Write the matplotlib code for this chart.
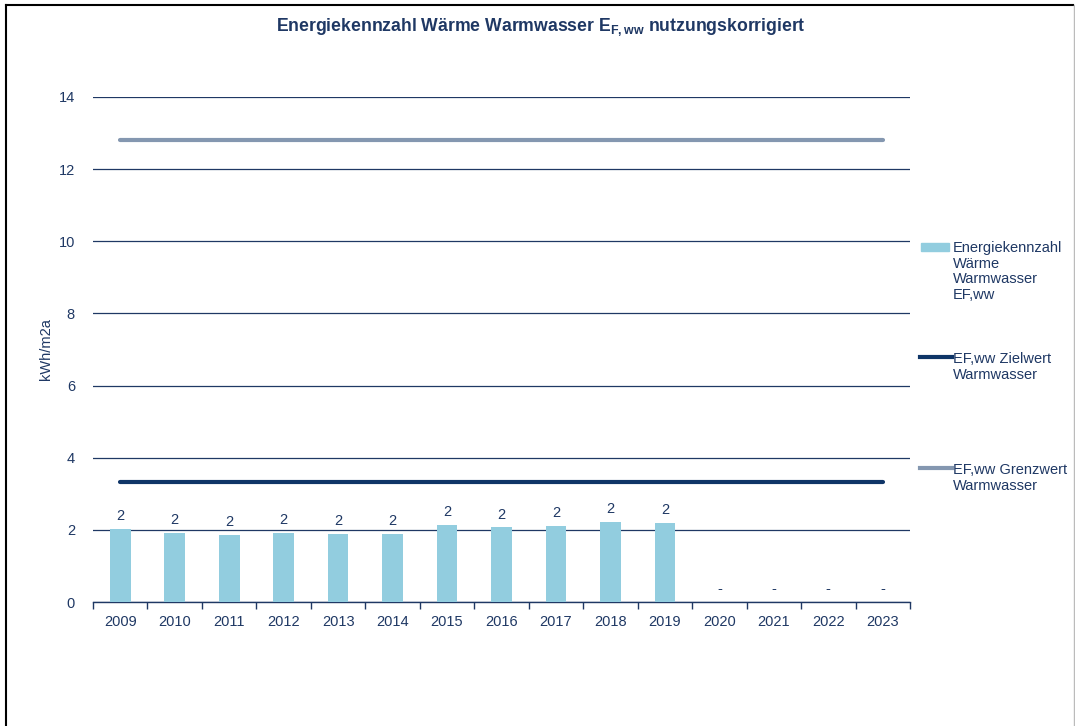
import matplotlib.pyplot as plt
from matplotlib.lines import Line2D
from matplotlib.patches import Rectangle

plt.rcParams['font.family'] = ['Liberation Sans', 'DejaVu Sans']
plt.rcParams['mathtext.fontset'] = 'custom'
plt.rcParams['mathtext.rm'] = 'Liberation Sans'
plt.rcParams['mathtext.bf'] = 'Liberation Sans:bold'

years = ['2009', '2010', '2011', '2012', '2013', '2014', '2015', '2016',
         '2017', '2018', '2019', '2020', '2021', '2022', '2023']
kennzahl = [2.03, 1.92, 1.86, 1.92, 1.89, 1.89, 2.14, 2.07, 2.11, 2.23, 2.20,
            0, 0, 0, 0]
zielwert = [3.33] * 15
grenzwert = [12.8] * 15

navy = '#1F3864'
bar_col = '#92CDDF'
ziel_col = '#0F3567'
grenz_col = '#8497B0'
fs = 10.5

W, H = 1075, 726
fig = plt.figure(figsize=(W / 100, H / 100), dpi=100)
ax = fig.add_axes([93 / W, 1 - 602 / H, (910 - 93) / W, (602 - 97) / H])

x = list(range(len(years)))
ax.bar(x, kennzahl, width=0.38, color=bar_col, zorder=3)
ax.plot(x, zielwert, color=ziel_col, lw=3, solid_capstyle='round', zorder=4)
ax.plot(x, grenzwert, color=grenz_col, lw=3, solid_capstyle='round', zorder=4)

for xi, v in zip(x, kennzahl):
    lab = '%.0f' % v if v > 0 else '-'
    ax.annotate(lab, (xi, v), xytext=(0, 4), textcoords='offset points',
                ha='center', va='bottom', fontsize=fs, color=navy)

ax.set_xlim(-0.5, len(years) - 0.5)
ax.set_ylim(0, 14)
ax.set_yticks(range(0, 15, 2))
ax.grid(axis='y', color=navy, lw=0.9, zorder=0)
ax.set_xticks(x)
ax.set_xticklabels(years)
ax.set_xticks([i - 0.5 for i in range(len(years) + 1)], minor=True)
ax.tick_params(axis='x', which='major', length=0, pad=9, labelsize=fs, labelcolor=navy)
ax.tick_params(axis='x', which='minor', length=5, width=1, color=navy)
ax.tick_params(axis='y', length=0, pad=13, labelsize=fs, labelcolor=navy)
for s in ['left', 'right', 'top']:
    ax.spines[s].set_visible(False)
ax.spines['bottom'].set_color(navy)
ax.spines['bottom'].set_linewidth(1)

ax.set_ylabel('kWh/m2a', fontsize=fs, color=navy)
ax.yaxis.set_label_coords(-40 / (910 - 93), 0.5)

fig.text(541 / W, 1 - 27 / H,
         r'Energiekennzahl Wärme Warmwasser $\mathbf{E_{F,ww}}$ nutzungskorrigiert',
         ha='center', va='center', fontsize=12.7, fontweight='bold', color=navy)


# legend drawn by hand (Excel-style spacing)
def fy(py):
    return 1 - py / H


fig.add_artist(Rectangle((921 / W, fy(251)), 28 / W, 8 / H,
                         transform=fig.transFigure, color=bar_col))
fig.text(953 / W, fy(241), 'Energiekennzahl\nWärme\nWarmwasser\nEF,ww',
         ha='left', va='top', fontsize=fs, color=navy, linespacing=1.15)
fig.add_artist(Line2D([920 / W, 952 / W], [fy(357), fy(357)], color=ziel_col, lw=3,
                      transform=fig.transFigure))
fig.text(953 / W, fy(352), 'EF,ww Zielwert\nWarmwasser', ha='left', va='top',
         fontsize=fs, color=navy, linespacing=1.15)
fig.add_artist(Line2D([920 / W, 952 / W], [fy(468), fy(468)], color=grenz_col, lw=3,
                      transform=fig.transFigure))
fig.text(953 / W, fy(463), 'EF,ww Grenzwert\nWarmwasser', ha='left', va='top',
         fontsize=fs, color=navy, linespacing=1.15)

# frame of the chart area
fig.add_artist(Line2D([6 / W, 1073 / W], [fy(5), fy(5)], color='black', lw=1.5,
                      transform=fig.transFigure))
fig.add_artist(Line2D([6 / W, 6 / W], [fy(5), 0], color='black', lw=1.5,
                      transform=fig.transFigure))
fig.add_artist(Line2D([1074 / W, 1074 / W], [fy(5), 0], color='#BBBBBB', lw=1,
                      transform=fig.transFigure))

fig.savefig('out.png', dpi=100)
